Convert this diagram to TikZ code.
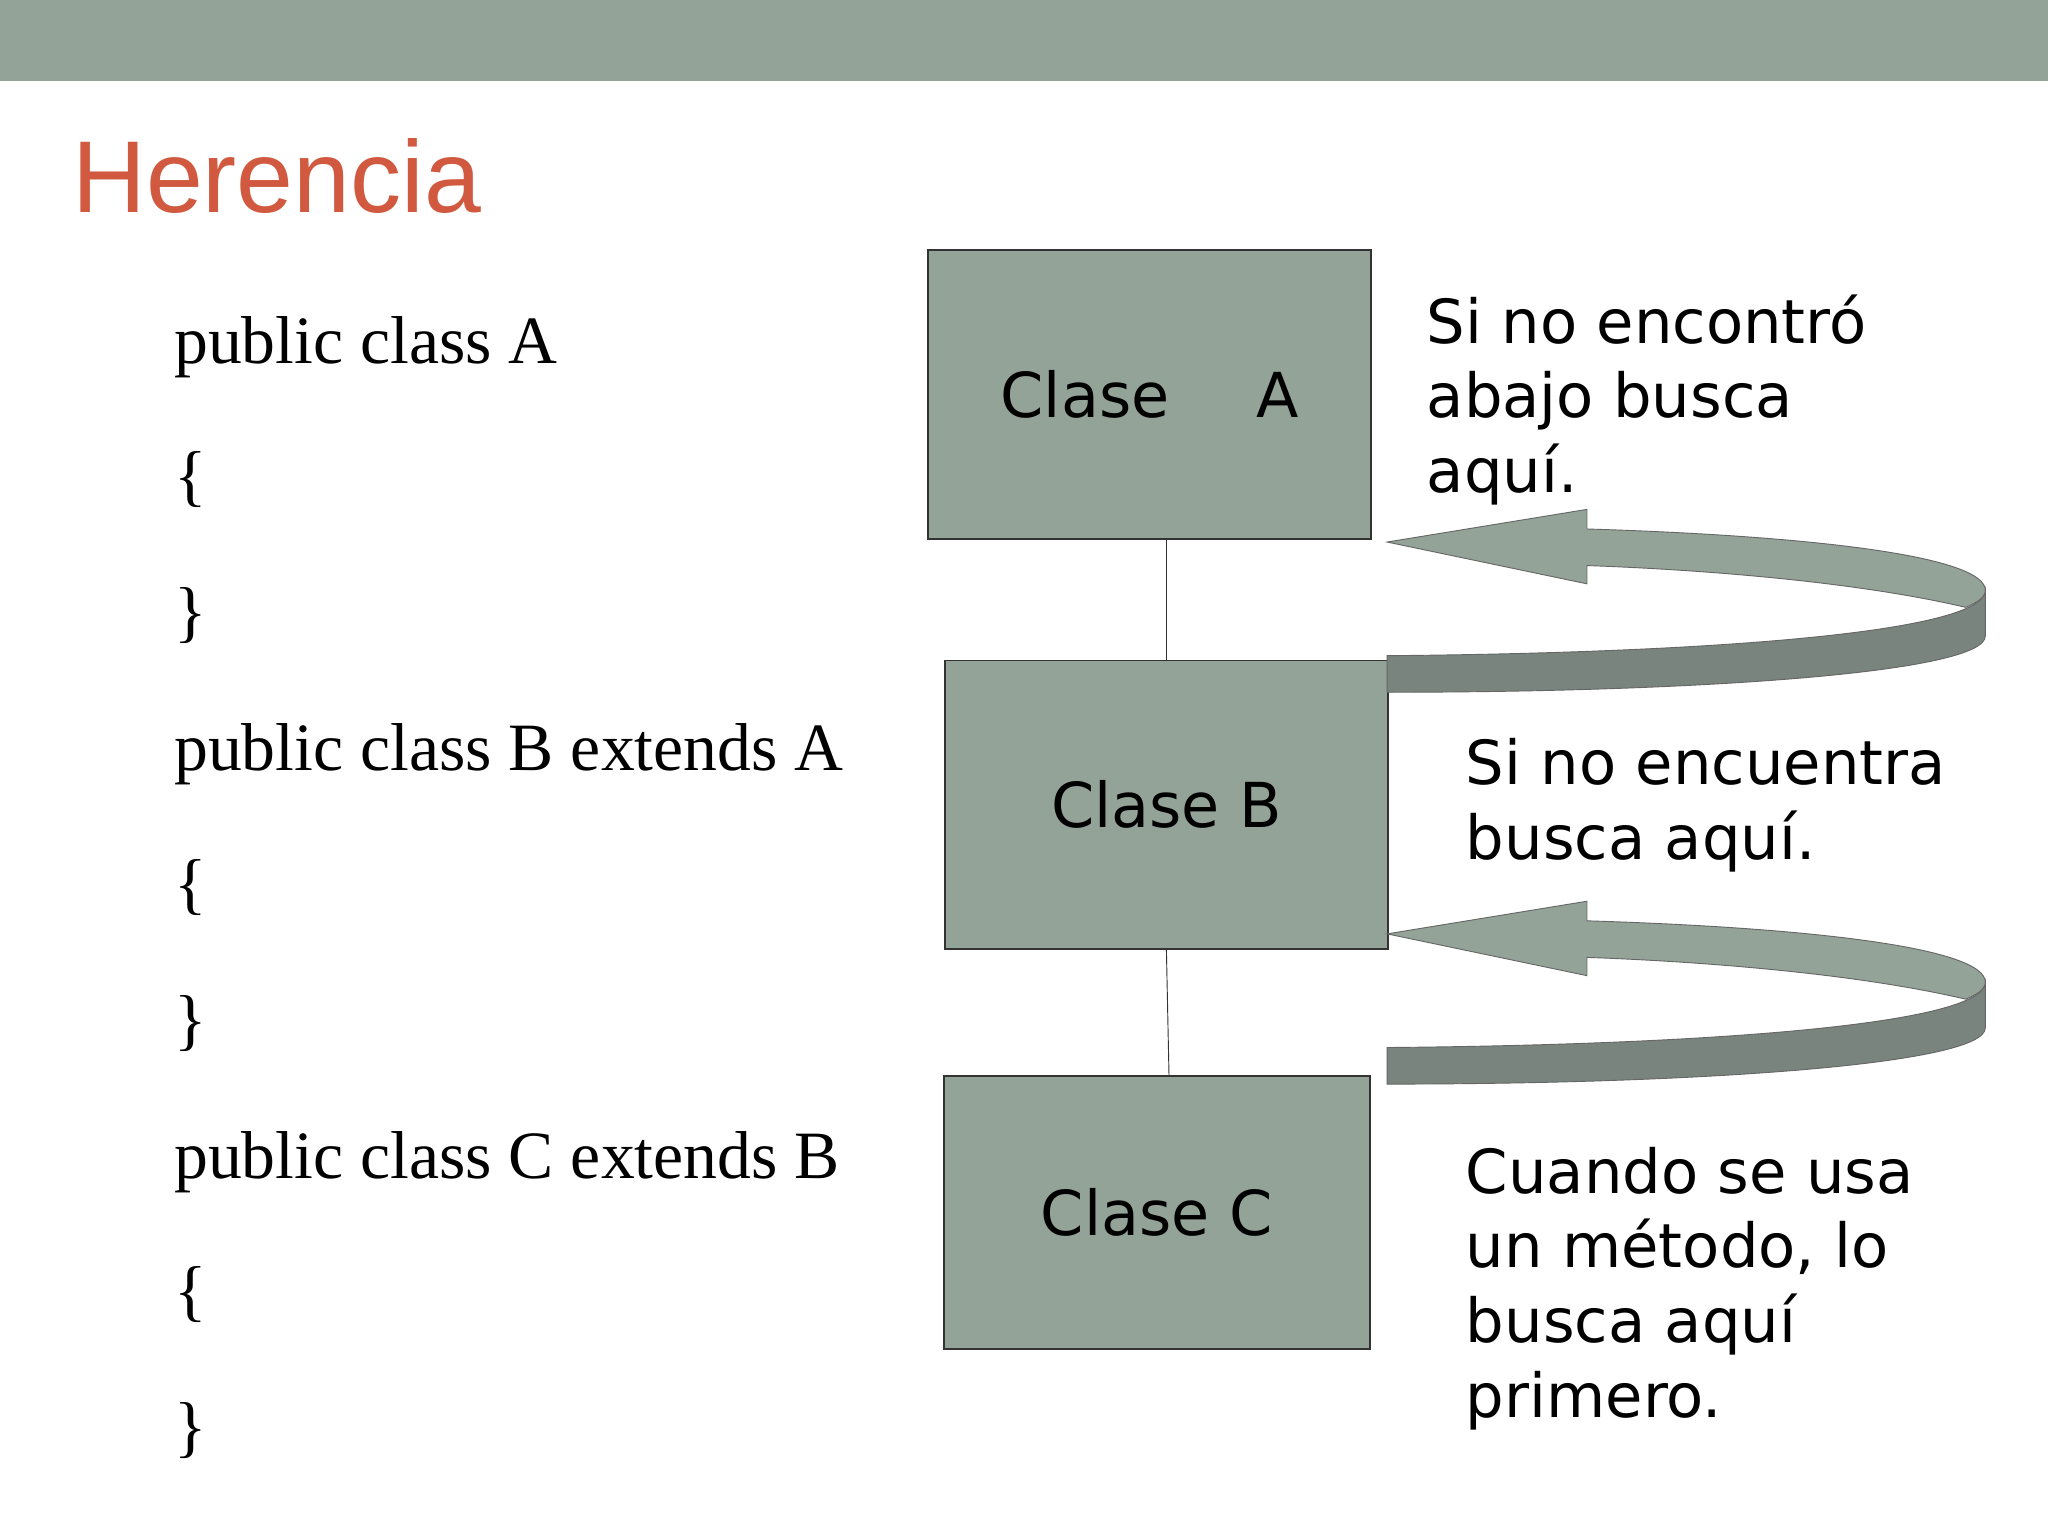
\documentclass[tikz,border=0pt]{standalone}
\usepackage{fontspec}
\setmainfont{Liberation Serif}
\newfontfamily\dv{DejaVu Sans}
\newfontfamily\ls{Liberation Sans}
\definecolor{bar}{HTML}{93A398}
\definecolor{dark}{HTML}{78847D}
\definecolor{ttl}{HTML}{D0593F}
\tikzset{cls/.style={draw=black!80,fill=bar,line width=0.8pt,inner sep=0},
code/.style={anchor=base west,font=\fontsize{29.5}{32}\selectfont,inner sep=0},
side/.style={anchor=base west,font=\dv\fontsize{26.5}{32.5}\selectfont,align=left,inner sep=0},
lab/.style={font=\dv\fontsize{27}{30}\selectfont}}
\begin{document}
\begin{tikzpicture}[x=0.02cm,y=-0.02cm]
\useasboundingbox (0,0) rectangle (1568,1176);
\fill[bar] (0,0) rectangle (1568,62);
\node[anchor=base west,inner sep=0,text=ttl,font=\ls\fontsize{44.5}{50}\selectfont] (t) at (55,163) {Herencia};
\foreach \t [count=\i from 0] in {public class A,\{,\},public class B extends A,\{,\},public class C extends B,\{,\}}
  \node[code] (c\i) at (133,278+104*\i) {\t};
\node[cls,minimum width=339*0.02cm,minimum height=221*0.02cm,anchor=north west] (A) at (710,191) {};
\node[lab] at (A.center) {Clase\hspace{1.4em}A};
\node[cls,minimum width=339*0.02cm,minimum height=221*0.02cm,anchor=north west] (B) at (723,505) {};
\node[lab] at (B.center) {Clase B};
\node[cls,minimum width=326*0.02cm,minimum height=209*0.02cm,anchor=north west] (C) at (722,823) {};
\node[lab] at (C.center) {Clase C};
\coordinate (a1) at (893,412);
\coordinate (b1) at (893,505);
\draw[black!80] (a1) -- (b1);
\coordinate (b2) at (893,726);
\coordinate (c2) at (895,823);
\draw[black!80] (b2) -- (c2);
\foreach \dy in {0,300}{
\begin{scope}[yshift=-\dy*0.02cm]
\filldraw[fill=dark,draw=black!60] (1062,502) .. controls (1300,500) and (1520,485) .. (1520,452) -- (1520,487) .. controls (1520,515) and (1300,530) .. (1062,530) -- cycle;
\filldraw[fill=bar,draw=black!60] (1215,405) .. controls (1380,410) and (1520,425) .. (1520,452) -- (1520,452) .. controls (1520,458) and (1512,462) .. (1505,465) .. controls (1420,445) and (1300,436) .. (1215,433) -- (1215,447) -- (1062,415) -- (1215,390) -- cycle;
\end{scope}}
\node[side] (s1) at (1092,377) {Si no encontró\\abajo busca\\aquí.};
\node[side] (s2) at (1122,658) {Si no encuentra\\busca aquí.};
\node[side] (s3) at (1122,1085) {Cuando se usa\\un método, lo\\busca aquí\\primero.};
\end{tikzpicture}
\end{document}
